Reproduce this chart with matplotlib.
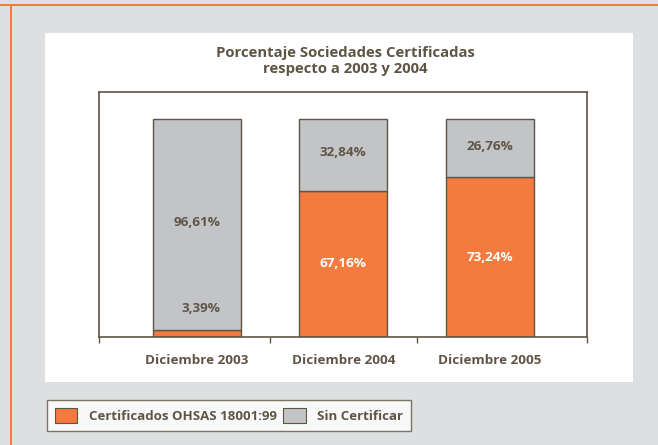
import matplotlib
matplotlib.use("Agg")
import matplotlib.pyplot as plt
from matplotlib.patches import Rectangle, Patch

plt.rcParams['font.family'] = ['Open Sans', 'DejaVu Sans']

categories = ["Diciembre 2003", "Diciembre 2004", "Diciembre 2005"]
certificados = [3.39, 67.16, 73.24]
sin_certificar = [96.61, 32.84, 26.76]
value_labels_cert = ["3,39%", "67,16%", "73,24%"]
value_labels_sin = ["96,61%", "32,84%", "26,76%"]
series_names = ["Certificados OHSAS 18001:99", "Sin Certificar"]
title = "Porcentaje Sociedades Certificadas\nrespecto a 2003 y 2004"

ORANGE = "#F37B40"
GREY = "#C3C4C8"
DARK = "#5E5545"
BG = "#DEDFE1"

W, H = 658, 445
fig = plt.figure(figsize=(W / 100, H / 100), dpi=100)
fig.patch.set_facecolor(BG)

# page decoration: orange rules and white panel
fig.patches.append(Rectangle((0, 1 - 6 / H), 1, 2 / H, transform=fig.transFigure,
                             facecolor=ORANGE, edgecolor="none", zorder=-5))
fig.patches.append(Rectangle((10 / W, 0), 2 / W, 1 - 4 / H, transform=fig.transFigure,
                             facecolor=ORANGE, edgecolor="none", zorder=-5))
fig.patches.append(Rectangle((45 / W, 1 - 382 / H), (633 - 45) / W, (382 - 33) / H,
                             transform=fig.transFigure, facecolor="white",
                             edgecolor="none", zorder=-5))

ax = fig.add_axes([99 / W, 1 - 337 / H, (587 - 99) / W, (337 - 92) / H])
ax.set_facecolor("white")
ax.set_zorder(2)

x = list(range(len(categories)))
ax.bar(x, certificados, width=0.6, color=ORANGE, edgecolor=DARK, linewidth=1.0)
ax.bar(x, sin_certificar, width=0.6, bottom=certificados, color=GREY,
       edgecolor=DARK, linewidth=1.0)

for i in x:
    c = certificados[i]
    s = sin_certificar[i]
    if c < 10:
        ax.text(i + 0.03, c + 9.6, value_labels_cert[i], ha="center", va="center",
                color=DARK, fontsize=9.7, fontweight="bold")
    else:
        ax.text(i, c / 2, value_labels_cert[i], ha="center", va="center",
                color="white", fontsize=9.7, fontweight="bold")
    ax.text(i, c + s / 2 + 1, value_labels_sin[i], ha="center", va="center",
            color=DARK, fontsize=9.7, fontweight="bold")

xl = (-0.667, 2.663)
ax.set_xlim(*xl)
ax.set_ylim(0, 112.4)
ax.set_xticks([xl[0], 0.5, 1.5, xl[1]])
ax.set_xticklabels([])
ax.tick_params(axis="x", which="major", length=4, width=1.0, color=DARK, direction="out")
ax.set_xticks(x, minor=True)
ax.set_xticklabels(categories, minor=True)
ax.tick_params(axis="x", which="minor", length=0, pad=12, labelsize=9.7,
               labelcolor=DARK)
for lab in ax.get_xticklabels(minor=True):
    lab.set_fontweight("bold")
ax.set_yticks([])
for sp in ax.spines.values():
    sp.set_color(DARK)
    sp.set_linewidth(1.2)

fig.text(345 / W, 1 - 61 / H, title, ha="center", va="center", color=DARK,
         fontsize=10.7, fontweight="bold", linespacing=1.1)

handles = [Patch(facecolor=ORANGE, edgecolor=DARK, linewidth=0.8),
           Patch(facecolor=GREY, edgecolor=DARK, linewidth=0.8)]
leg = fig.legend(handles, series_names, loc="lower left",
                 bbox_to_anchor=(47 / W, 1 - 431 / H), ncol=2,
                 frameon=True, fancybox=False, edgecolor=DARK, facecolor="white",
                 handlelength=1.7, handleheight=1.4, handletextpad=0.85,
                 columnspacing=0.5, borderpad=0.6, borderaxespad=0,
                 prop={"weight": "bold", "size": 9.5})
leg.get_frame().set_linewidth(1.0)
for t in leg.get_texts():
    t.set_color(DARK)

fig.savefig("out.png", dpi=100, facecolor=BG)
